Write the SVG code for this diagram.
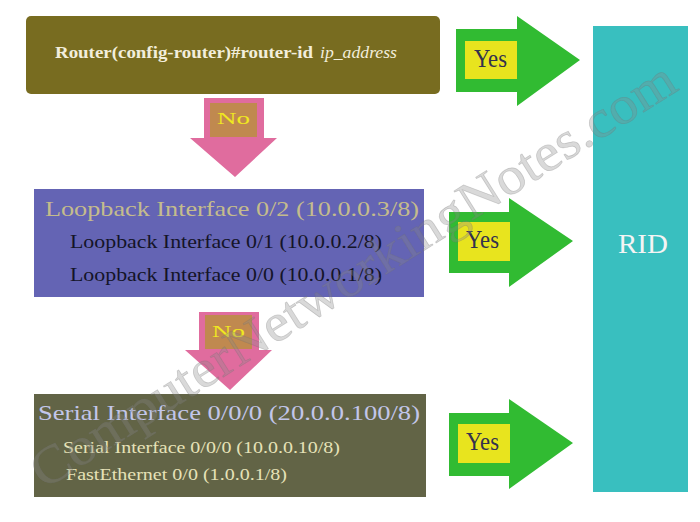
<svg xmlns="http://www.w3.org/2000/svg" width="700" height="522" viewBox="0 0 700 522">
<style>
text{font-family:"Liberation Serif","DejaVu Serif",serif}
.garrow{fill:#31bb32}
.parrow{fill:#e06c9e}
.ybox{fill:#e8e41e}
.nbox{fill:#c0894f}
.yes{font-size:25px;fill:#33314e}
.no{font-size:17px;fill:#f0e820}
.wm{font-size:53px;fill:#8a8a8a;fill-opacity:0.32;stroke:#6f6f6f;stroke-opacity:0.3;stroke-width:0.7}
</style>
<rect width="700" height="522" fill="#ffffff"/>
<g id="cmd">
<rect x="26" y="16" width="414" height="78" rx="5" fill="#786c20"/>
<text x="55" y="58" font-size="16.5" font-weight="bold" fill="#f2eedc" textLength="258" lengthAdjust="spacingAndGlyphs">Router(config-router)#router-id</text>
<text x="320" y="58" font-size="16.5" font-style="italic" fill="#f2eedc" textLength="77" lengthAdjust="spacingAndGlyphs">ip_address</text>
</g>
<g id="loopback">
<rect x="34" y="189" width="390" height="108" fill="#6464b4"/>
<text x="45" y="216" font-size="21" fill="#c4bc8c" textLength="374" lengthAdjust="spacingAndGlyphs">Loopback Interface 0/2 (10.0.0.3/8)</text>
<text x="70" y="248" font-size="18" fill="#141428" textLength="312" lengthAdjust="spacingAndGlyphs">Loopback Interface 0/1 (10.0.0.2/8)</text>
<text x="70" y="281" font-size="18" fill="#141428" textLength="312" lengthAdjust="spacingAndGlyphs">Loopback Interface 0/0 (10.0.0.1/8)</text>
</g>
<g id="serial">
<rect x="34" y="394" width="392" height="103" fill="#626446"/>
<text x="38" y="420" font-size="22" fill="#c2c6ea" textLength="382" lengthAdjust="spacingAndGlyphs">Serial Interface 0/0/0 (20.0.0.100/8)</text>
<text x="63" y="453" font-size="17" fill="#e6e2b8" textLength="277" lengthAdjust="spacingAndGlyphs">Serial Interface 0/0/0 (10.0.0.10/8)</text>
<text x="66" y="480" font-size="17" fill="#e6e2b8" textLength="221" lengthAdjust="spacingAndGlyphs">FastEthernet 0/0 (1.0.0.1/8)</text>
</g>
<g id="rid">
<rect x="593" y="26" width="95" height="466" fill="#39bfbf"/>
<text x="643" y="253" font-size="28" fill="#f4f4f4" text-anchor="middle" textLength="50" lengthAdjust="spacingAndGlyphs">RID</text>
</g>
<g id="connectors">
<g id="yes1">
<polygon class="garrow" points="456,29 517,29 517,16 580,60 517,106 517,92 456,92"/>
<rect class="ybox" x="465" y="41" width="52" height="38"/>
<text class="yes" x="474" y="67" textLength="33" lengthAdjust="spacingAndGlyphs">Yes</text>
</g>
<g id="yes2">
<polygon class="garrow" points="449,212 509,212 509,198 573,241 509,287 509,273 449,273"/>
<rect class="ybox" x="458" y="222" width="52" height="39"/>
<text class="yes" x="466" y="248" textLength="33" lengthAdjust="spacingAndGlyphs">Yes</text>
</g>
<g id="yes3">
<polygon class="garrow" points="449,413 509,413 509,399 573,443 509,489 509,476 449,476"/>
<rect class="ybox" x="458" y="424" width="52" height="39"/>
<text class="yes" x="466" y="450" textLength="33" lengthAdjust="spacingAndGlyphs">Yes</text>
</g>
<g id="no1">
<polygon class="parrow" points="204,98 264,98 264,138 277,138 235,177 190,138 204,138"/>
<rect class="nbox" x="210" y="103" width="47" height="34"/>
<text class="no" x="217" y="124" textLength="33" lengthAdjust="spacingAndGlyphs">No</text>
</g>
<g id="no2">
<polygon class="parrow" points="199,312 259,312 259,350 272,350 230,390 185,350 199,350"/>
<rect class="nbox" x="205" y="315" width="47" height="34"/>
<text class="no" x="212" y="337" textLength="33" lengthAdjust="spacingAndGlyphs">No</text>
</g>
</g>
<g id="watermark">
<text class="wm" x="44" y="490" transform="rotate(-32.2 44 490)" textLength="752" lengthAdjust="spacingAndGlyphs">ComputerNetworkingNotes.com</text>
</g>
</svg>
